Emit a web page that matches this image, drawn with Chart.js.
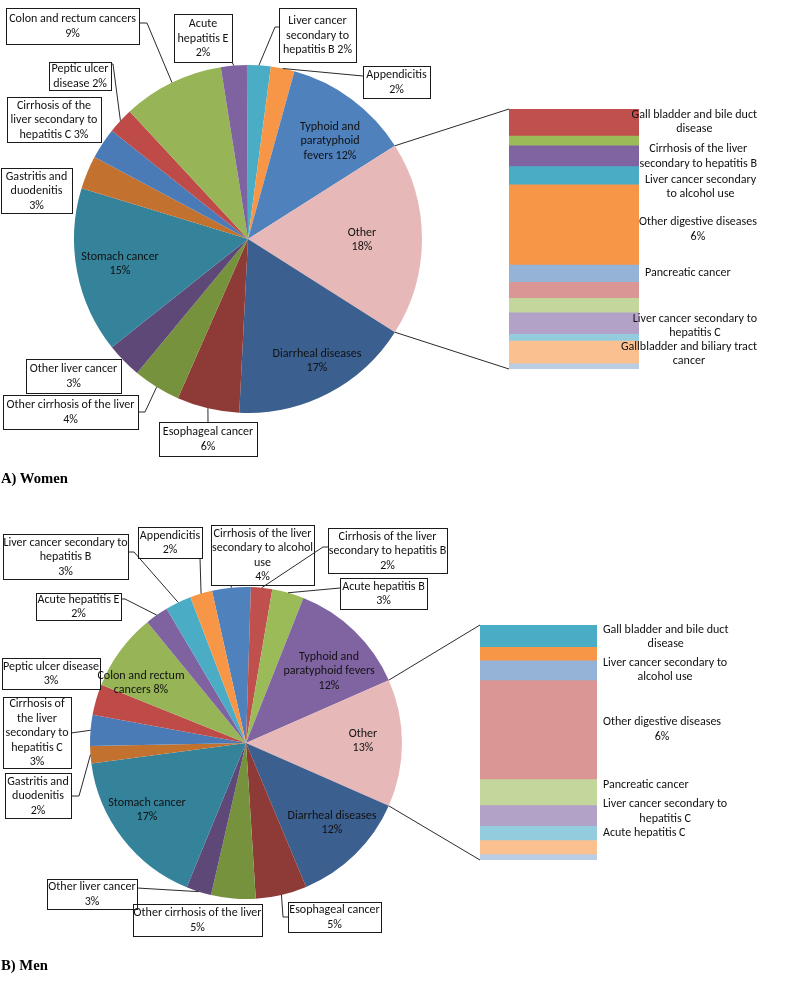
<!DOCTYPE html>
<html><head><meta charset="utf-8">
<script src="https://cdn.jsdelivr.net/npm/chart.js@4"></script>
<style>
html,body{margin:0;padding:0;background:#fff;}
#page{position:relative;width:792px;height:987px;overflow:hidden;background:#fff;}
#page canvas{position:absolute;left:0;top:0;}
.title{position:absolute;left:1px;font:bold 14.67px "Liberation Serif","Times New Roman",serif;color:#000;white-space:nowrap;line-height:16px;}
</style></head><body>
<div id="page">
<canvas id="pieW" width="792" height="987"></canvas>
<canvas id="pieM" width="792" height="987"></canvas>
<canvas id="barW" width="792" height="987"></canvas>
<canvas id="barM" width="792" height="987"></canvas>
<div class="title" style="top:470px">A) Women</div>
<div class="title" style="top:957px">B) Men</div>
</div>
<script>
// ---------------- DATA ----------------
const womenCategories = ["Liver cancer secondary to hepatitis B","Appendicitis","Typhoid and paratyphoid fevers","Other","Diarrheal diseases","Esophageal cancer","Other cirrhosis of the liver","Other liver cancer","Stomach cancer","Gastritis and duodenitis","Cirrhosis of the liver secondary to hepatitis C","Peptic ulcer disease","Colon and rectum cancers","Acute hepatitis E"];
const womenValues = [2.2,2.2,11.7,18.0,16.8,5.8,4.4,3.3,15.4,3.1,2.9,2.4,9.4,2.4];
const womenOtherCategories = ["Gall bladder and bile duct disease","","Cirrhosis of the liver secondary to hepatitis B","Liver cancer secondary to alcohol use","Other digestive diseases","Pancreatic cancer","","","Liver cancer secondary to hepatitis C","","Gallbladder and biliary tract cancer",""];
const womenOtherValues = [1.83,0.67,1.44,1.27,5.55,1.20,1.11,1.00,1.48,0.47,1.58,0.40];

const menCategories = ["Cirrhosis of the liver secondary to alcohol use","Cirrhosis of the liver secondary to hepatitis B","Acute hepatitis B","Typhoid and paratyphoid fevers","Other","Diarrheal diseases","Esophageal cancer","Other cirrhosis of the liver","Other liver cancer","Stomach cancer","Gastritis and duodenitis","Cirrhosis of the liver secondary to hepatitis C","Peptic ulcer disease","Colon and rectum cancers","Acute hepatitis E","Liver cancer secondary to hepatitis B","Appendicitis"];
const menValues = [4.0,2.2,3.3,12.4,13.2,12.1,5.3,4.6,2.6,16.7,1.8,3.2,3.2,8.0,2.4,2.7,2.3];
const menOtherCategories = ["Gall bladder and bile duct disease","","Liver cancer secondary to alcohol use","Other digestive diseases","Pancreatic cancer","Liver cancer secondary to hepatitis C","Acute hepatitis C","",""];
const menOtherValues = [1.22,0.75,1.12,5.56,1.46,1.16,0.80,0.79,0.34];

// ---------------- STYLES ----------------
const womenColors = ['#4BACC6','#F79646','#4F81BD','#E6B9B8','#3B5F8F','#8E3A37','#76923C','#5E4878','#34839A','#C2712F','#4A7BB7','#BE4B48','#97B456','#7F63A0'];
const menColors = ['#4F81BD','#C0504D','#9BBB59','#8064A2','#E6B9B8','#3B5F8F','#8E3A37','#76923C','#5E4878','#34839A','#C2712F','#4A7BB7','#BE4B48','#97B456','#7F63A0','#4BACC6','#F79646'];
const womenOtherColors = ['#C0504D','#9BBB59','#8064A2','#4BACC6','#F79646','#95B3D7','#D99694','#C3D69B','#B3A2C7','#93CDDD','#FAC090','#B9CDE5'];
const menOtherColors = ['#4BACC6','#F79646','#95B3D7','#D99694','#C3D69B','#B3A2C7','#93CDDD','#FAC090','#B9CDE5'];

// label layouts (page pixel positions)
const womenLabelLayout = [
 {box:[279,8,356,62], words:[2,2,3], attach:[279,27], elbow:[275,27]},
 {box:[363,66,430,98], words:[1,1], attach:[363,76]},
 {at:[330,141], words:[2,1,2]},
 {at:[362,240], words:[1,1]},
 {at:[317,361], words:[2,1]},
 {box:[159,422,257,456], words:[2,1], attach:[208,422]},
 {box:[3,395,138,429], words:[5,1], attach:[138,412], elbow:[145,412]},
 {box:[26,359,121,393], words:[3,1]},
 {at:[120,264], words:[2,1]},
 {box:[1,168,72,213], words:[2,1,1]},
 {box:[7,97,101,142], words:[3,3,3]},
 {box:[49,62,111,90], words:[2,2], attach:[111,64], elbow:[113,64]},
 {box:[6,8,139,44], words:[4,1], attach:[139,23], elbow:[147,23]},
 {box:[174,14,232,62], words:[1,2,1], attach:[232,62]}
];
const menLabelLayout = [
 {box:[211,525,314,585], words:[4,3,1,1], attach:[231,585]},
 {box:[328,528,447,573], words:[4,4,1], attach:[328,547], elbow:[323,547]},
 {box:[340,578,427,609], words:[3,1], attach:[340,588]},
 {at:[329,671], words:[2,2,1]},
 {at:[363,741], words:[1,1]},
 {at:[332,823], words:[2,1]},
 {box:[288,902,381,932], words:[2,1], attach:[288,917], elbow:[283,917]},
 {box:[133,904,262,936], words:[5,1]},
 {box:[47,879,137,909], words:[3,1], attach:[137,888]},
 {at:[147,810], words:[2,1]},
 {box:[5,773,71,818], words:[2,1,1], attach:[71,796], elbow:[79,796]},
 {box:[3,697,71,768], words:[2,2,2,2,1], attach:[71,733]},
 {box:[2,658,100,689], words:[3,1]},
 {at:[141,683], words:[3,2]},
 {box:[36,593,121,620], words:[3,1], attach:[121,599], elbow:[125,599]},
 {box:[3,534,128,579], words:[4,2,1], attach:[128,552], elbow:[134,552]},
 {box:[138,527,202,558], words:[1,1], attach:[200,558]}
];
const womenBarLayout = [{words:[5,1],dy:0},null,{words:[4,4],dy:1},{words:[3,3],dy:12},{words:[3,1],pct:true,dy:5},{words:[2],dy:0},null,null,{words:[4,2],dy:3},null,{words:[4,1],dy:2},null];
const menBarLayout = [{words:[5,1],dy:1},null,{words:[4,2],dy:0},{words:[3,1],pct:true,dy:0},{words:[2],dy:-7},{words:[4,2],dy:-4},{words:[3],dy:0},null,null];

const W = 792, H = 987;
const FONT_FAMILY = 'Carlito, Lato, "Noto Sans", sans-serif';
const mctx = document.createElement('canvas').getContext('2d');
mctx.font = '12px ' + FONT_FAMILY;
const FONT_SIZE = 12 * 126.8 / mctx.measureText('Colon and rectum cancers').width;
const FONT = FONT_SIZE.toFixed(2) + 'px ' + FONT_FAMILY;
const LINE_H = 14.5;
const TEXT_COLOR = '#111';
const LINE_COLOR = '#2a2a2a';

function sum(a){return a.reduce((s,v)=>s+v,0);}
function splitLines(text, counts){
  const words = text.split(' '); const lines = []; let idx = 0;
  counts.forEach(c=>{ if(idx<words.length){ lines.push(words.slice(idx, idx+c).join(' ')); idx+=c; } });
  if (idx < words.length) lines[lines.length-1] += ' ' + words.slice(idx).join(' ');
  return lines;
}
function drawLines(ctx, lines, cx, cy){
  ctx.font = FONT; ctx.fillStyle = TEXT_COLOR; ctx.textAlign = 'center'; ctx.textBaseline = 'middle';
  lines.forEach((l,i)=>ctx.fillText(l, cx, cy + (i-(lines.length-1)/2)*LINE_H));
}
const registry = {};

const calloutPlugin = {
  id:'callouts',
  afterDatasetsDraw(chart){
    const cfg = registry[chart.canvas.id]; if(!cfg) return;
    const ctx = chart.ctx; ctx.save();
    const meta = chart.getDatasetMeta(0);
    const vals = chart.data.datasets[0].data;
    const total = sum(vals);
    ctx.strokeStyle = LINE_COLOR; ctx.lineWidth = 1;
    const bar = registry[cfg.barId] && registry[cfg.barId].chart;
    if (bar) {
      let top=Infinity,bottom=-Infinity,left=Infinity;
      bar.data.datasets.forEach((ds,i)=>{
        const el = bar.getDatasetMeta(i).data[0];
        top=Math.min(top,el.y,el.base); bottom=Math.max(bottom,el.y,el.base); left=Math.min(left,el.x-el.width/2);
      });
      const a = meta.data[cfg.otherIndex];
      ctx.beginPath();
      ctx.moveTo(a.x + a.outerRadius*Math.cos(a.startAngle), a.y + a.outerRadius*Math.sin(a.startAngle));
      ctx.lineTo(left, top);
      ctx.moveTo(a.x + a.outerRadius*Math.cos(a.endAngle), a.y + a.outerRadius*Math.sin(a.endAngle));
      ctx.lineTo(left, bottom);
      ctx.stroke();
    }
    cfg.layout.forEach((L,i)=>{
      const a = meta.data[i];
      const pct = Math.round(vals[i]/total*100);
      const lines = splitLines(chart.data.labels[i] + ' ' + pct + '%', L.words);
      if (L.box) {
        const [x0,y0,x1,y1] = L.box;
        ctx.strokeStyle = LINE_COLOR; ctx.lineWidth = 1;
        if (L.attach) {
          const mid = (a.startAngle + a.endAngle)/2;
          ctx.beginPath();
          ctx.moveTo(a.x + a.outerRadius*Math.cos(mid), a.y + a.outerRadius*Math.sin(mid));
          if (L.elbow) ctx.lineTo(L.elbow[0], L.elbow[1]);
          ctx.lineTo(L.attach[0], L.attach[1]);
          ctx.stroke();
        }
        ctx.strokeStyle = '#1a1a1a';
        ctx.strokeRect(Math.round(x0)+0.5, Math.round(y0)+0.5, Math.round(x1-x0), Math.round(y1-y0));
        drawLines(ctx, lines, (x0+x1)/2, (y0+y1)/2 + 0.5);
      } else {
        drawLines(ctx, lines, L.at[0], L.at[1]);
      }
    });
    ctx.restore();
  }
};

const barLabelPlugin = {
  id:'barLabels',
  afterDatasetsDraw(chart){
    const cfg = registry[chart.canvas.id]; if(!cfg) return;
    const ctx = chart.ctx; ctx.save();
    chart.data.datasets.forEach((ds,i)=>{
      const L = cfg.layout[i]; if(!L || !ds.label) return;
      const el = chart.getDatasetMeta(i).data[0];
      const cy = (el.y + el.base)/2 + (L.dy||0);
      const right = el.x + el.width/2;
      const text = ds.label + (L.pct ? ' ' + Math.round(ds.data[0]/cfg.pieTotal*100) + '%' : '');
      const lines = splitLines(text, L.words);
      ctx.font = FONT;
      const w = Math.max(...lines.map(l=>ctx.measureText(l).width));
      const cx = Math.min(right + cfg.gap + w/2, cfg.rightLimit - w/2);
      drawLines(ctx, lines, cx, cy);
    });
    ctx.restore();
  }
};

function makeBar(id, cats, vals, colors, rect, layout, pieTotal) {
  registry[id] = {layout, pieTotal, gap:6, rightLimit:757};
  const datasets = cats.map((c,i)=>({label:c, data:[vals[i]], backgroundColor:colors[i], borderWidth:0, barPercentage:1, categoryPercentage:1}));
  const chart = new Chart(document.getElementById(id), {
    type:'bar',
    data:{labels:['Other'], datasets},
    options:{
      responsive:false, animation:false, devicePixelRatio:1,
      layout:{padding:{left:rect[0], top:rect[1], right:W-rect[2], bottom:H-rect[3]}},
      scales:{
        x:{display:false, stacked:true},
        y:{display:false, stacked:true, min:0, max:sum(vals), reverse:true}
      },
      plugins:{legend:{display:false}, tooltip:{enabled:false}}
    },
    plugins:[barLabelPlugin]
  });
  registry[id].chart = chart;
  return chart;
}

function makePie(id, cats, vals, colors, center, radius, layout, barId) {
  const otherIndex = cats.indexOf('Other');
  const total = sum(vals);
  const before = sum(vals.slice(0, otherIndex));
  const rotation = 90 - (before + vals[otherIndex]/2) / total * 360;
  registry[id] = {layout, barId, otherIndex};
  const chart = new Chart(document.getElementById(id), {
    type:'pie',
    data:{labels:cats, datasets:[{data:vals, backgroundColor:colors, borderWidth:0}]},
    options:{
      responsive:false, animation:false, devicePixelRatio:1, rotation,
      layout:{padding:{left:center[0]-radius, top:center[1]-radius, right:W-center[0]-radius, bottom:H-center[1]-radius}},
      plugins:{legend:{display:false}, tooltip:{enabled:false}}
    },
    plugins:[calloutPlugin]
  });
  registry[id].chart = chart;
  return chart;
}

makeBar('barW', womenOtherCategories, womenOtherValues, womenOtherColors, [509,109,639,369], womenBarLayout, sum(womenValues));
makeBar('barM', menOtherCategories, menOtherValues, menOtherColors, [480,625,597,860], menBarLayout, sum(menValues));
makePie('pieW', womenCategories, womenValues, womenColors, [248,239], 174, womenLabelLayout, 'barW');
makePie('pieM', menCategories, menValues, menColors, [246,743], 156, menLabelLayout, 'barM');
</script>
</body></html>
